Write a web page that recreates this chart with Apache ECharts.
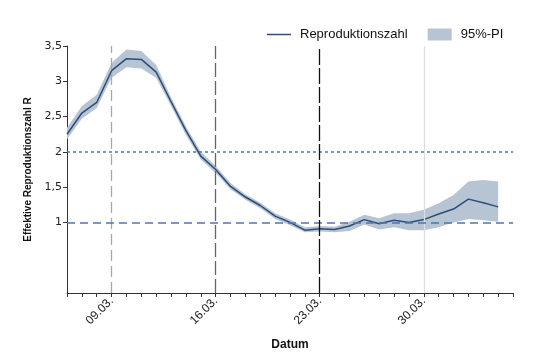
<!DOCTYPE html>
<html>
<head>
<meta charset="utf-8">
<script src="https://cdn.jsdelivr.net/npm/echarts@6/dist/echarts.min.js"></script>
<style>html,body{margin:0;padding:0;background:#fff}#c{width:550px;height:356px}</style>
</head>
<body>
<div id="c"></div>
<script>
var dates = ['06.03.','07.03.','08.03.','09.03.','10.03.','11.03.','12.03.','13.03.','14.03.','15.03.','16.03.','17.03.','18.03.','19.03.','20.03.','21.03.','22.03.','23.03.','24.03.','25.03.','26.03.','27.03.','28.03.','29.03.','30.03.','31.03.','01.04.','02.04.','03.04.','04.04.','05.04.'];
var rValues = [2.25,2.55,2.70,3.15,3.32,3.31,3.13,2.71,2.30,1.94,1.75,1.51,1.36,1.24,1.09,1.00,0.89,0.91,0.90,0.95,1.04,0.98,1.03,1.00,1.04,1.12,1.19,1.33,1.28,1.22];
var piLower = [2.18,2.47,2.62,3.05,3.20,3.18,3.05,2.65,2.24,1.89,1.70,1.47,1.32,1.20,1.05,0.96,0.86,0.87,0.86,0.88,0.97,0.90,0.93,0.89,0.89,0.93,1.00,1.05,1.03,1.01];
var piUpper = [2.34,2.65,2.81,3.26,3.45,3.43,3.23,2.77,2.36,2.00,1.80,1.56,1.40,1.28,1.13,1.04,0.93,0.95,0.94,1.01,1.11,1.06,1.13,1.13,1.18,1.27,1.39,1.58,1.60,1.58];
var yTickValues = [1,1.5,2,2.5,3,3.5];
var labelDates = ['09.03.','16.03.','23.03.','30.03.'];

var piWidth = piUpper.map(function(u,i){return +(u - piLower[i]).toFixed(3);});

var chart = echarts.init(document.getElementById('c'), null, {renderer:'canvas'});
chart.setOption({
  animation:false,
  backgroundColor:'#fff',
  grid:{left:67,right:37,top:46,bottom:55},
  legend:{
    left:262, top:23, itemWidth:24, itemHeight:12, itemGap:20,
    textStyle:{fontFamily:'Liberation Sans', fontSize:13, color:'#111', padding:[0,0,0,4]},
    data:[
      {name:'Reproduktionszahl', icon:'path://M0,0L24,0L24,1.5L0,1.5Z', itemStyle:{color:'#2c4d78'}},
      {name:'95%-PI', icon:'rect'}
    ]
  },
  xAxis:{
    type:'category', data:dates, boundaryGap:false,
    name:'Datum', nameLocation:'middle', nameGap:46,
    nameTextStyle:{fontFamily:'Liberation Sans', fontWeight:'bold', fontSize:12, color:'#111'},
    axisLine:{lineStyle:{color:'#333', width:1}},
    axisTick:{show:true, interval:0, length:4, lineStyle:{color:'#333'}},
    axisLabel:{
      interval:function(i,v){return labelDates.indexOf(v) >= 0;},
      rotate:45, fontFamily:'Liberation Sans', fontSize:12, color:'#222', margin:6
    },
    splitLine:{show:false}
  },
  yAxis:{
    type:'value', min:0, max:3.5, interval:0.5,
    name:'Effektive Reproduktionszahl R', nameLocation:'middle', nameGap:32,
    nameTextStyle:{fontFamily:'Liberation Sans', fontWeight:'bold', fontSize:10, color:'#111'},
    axisLine:{show:true, lineStyle:{color:'#333', width:1}},
    axisTick:{show:true, length:4, customValues:yTickValues, lineStyle:{color:'#333'}},
    axisLabel:{customValues:yTickValues, fontFamily:'DejaVu Sans', fontSize:11, color:'#222', margin:5,
      formatter:function(v){return String(v).replace('.', ',');}},
    splitLine:{show:false}
  },
  series:[
    {
      name:'piLow', type:'line', data:piLower, stack:'pi', symbol:'none',
      lineStyle:{opacity:0}, silent:true, z:1,
      markLine:{
        silent:true, symbol:'none', label:{show:false},
        data:[
          {xAxis:'09.03.', lineStyle:{color:'#a8a8a8', type:[11,5], width:1.3}},
          {xAxis:'16.03.', lineStyle:{color:'#666', type:[14,4], width:1.3}},
          {xAxis:'30.03.', lineStyle:{color:'#dddddd', type:'solid', width:1.3}}
        ]
      }
    },
    {
      name:'95%-PI', type:'line', data:piWidth, stack:'pi', symbol:'none',
      color:'#b6c4d3', lineStyle:{opacity:0}, areaStyle:{color:'#b6c4d3', opacity:1}, z:2
    },
    {
      name:'Reproduktionszahl', type:'line', data:rValues, symbol:'none',
      color:'#2c4d78', lineStyle:{color:'#2c4d78', width:1.5}, z:3,
      markLine:{
        silent:true, symbol:'none', label:{show:false},
        data:[
          {yAxis:2, lineStyle:{color:'#4a78b5', type:[3,3], width:1.5}},
          {yAxis:1, lineStyle:{color:'#4a78b5', type:[8,5], width:1.5}},
          {xAxis:'23.03.', lineStyle:{color:'#111', type:[16,3], width:1.3}}
        ]
      }
    }
  ]
});
</script>
</body>
</html>
